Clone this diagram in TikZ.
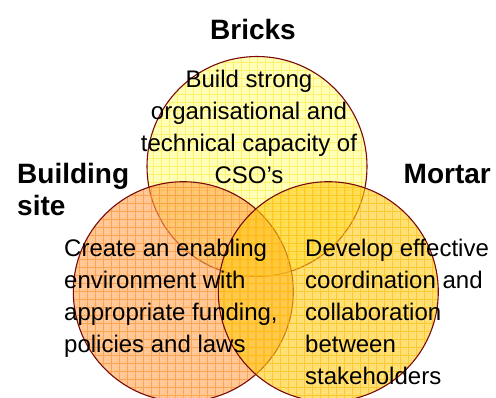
\documentclass[tikz,border=0pt]{standalone}
\usepackage{fontspec}
\setmainfont{Liberation Sans}

\begin{document}
\begin{tikzpicture}[x=1pt,y=-1pt,
  venn/.style={circle,minimum size=220pt,inner sep=0pt,draw=ringline,line width=1.1pt,fill opacity=.6},
  head/.style={font=\bfseries\fontsize{28}{32}\selectfont,inner sep=0pt},
  body/.style={font=\fontsize{24}{32}\selectfont,inner sep=0pt}]
\useasboundingbox (0,0) rectangle (496,397);
\definecolor{ringline}{HTML}{7A0A0A}
\definecolor{brickfill}{HTML}{FFFF88}
\definecolor{brickgrid}{HTML}{FFE840}
\definecolor{sitefill}{HTML}{FFA350}
\definecolor{sitegrid}{HTML}{FF8A20}
\definecolor{mortarfill}{HTML}{FFCB19}
\definecolor{mortargrid}{HTML}{FFB800}
  \foreach \crlr/\grd/\nm/\px/\py in {brickfill/brickgrid/bricks/257/166.5,sitefill/sitegrid/site/183.3/291.7,mortarfill/mortargrid/mortar/328.3/291.7}
  {  \node [venn,fill=\crlr,path picture={\draw[\grd,draw opacity=.6,line width=.6pt,step=8pt] (path picture bounding box.south west) grid (path picture bounding box.north east);}] (\nm) at (\px,\py) {};}
% multi-line nodes sit on their last baseline
\node [head,anchor=base] (brickshead) at (253,39.5) {Bricks};
\node [head,anchor=base west,align=left] (sitehead) at (17,215) {Building\\site};
\node [head,anchor=base east] (mortarhead) at (491,183.5) {Mortar};
\node [body,anchor=base,align=center] (brickstext) at (249,183.5) {Build strong\\organisational and\\technical capacity of\\CSO’s};
\node [body,anchor=base west,align=left] (sitetext) at (64,352.5) {Create an enabling\\environment with\\appropriate funding,\\policies and laws};
\node [body,anchor=base west,align=left] (mortartext) at (305,384.5) {Develop effective\\coordination and\\collaboration\\between\\stakeholders};
\end{tikzpicture}
\end{document}
